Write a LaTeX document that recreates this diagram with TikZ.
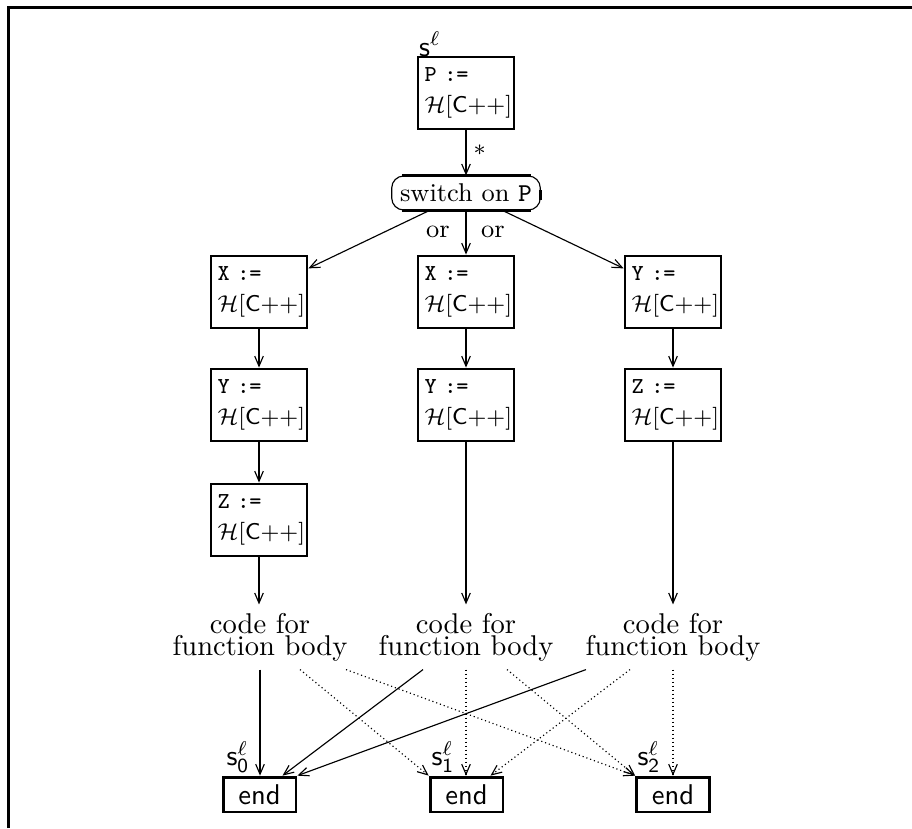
\documentclass[tikz,border=0pt]{standalone}
\usetikzlibrary{arrows.meta,calc}
\newcommand\HCpp{$\mathcal{H}$[\textsf{C++}]}
\begin{document}
\begin{tikzpicture}[x=0.35pt,y=-0.35pt,
  box/.style={draw,line width=1pt,minimum width=33.6pt,minimum height=25.2pt,
    text width=29pt,inner xsep=2.3pt,inner ysep=0pt,align=left,font=\footnotesize},
  endbox/.style={draw,line width=1pt,minimum width=25.5pt,minimum height=12.2pt,
    inner sep=0pt,font=\sffamily},
  codebox/.style={align=center,inner sep=0pt,minimum height=22.4pt},
  lab/.style={inner sep=0pt},
  arr/.style={line width=0.4pt,-{Straight Barb[length=3.5pt,width=3pt]}},
  darr/.style={arr,dash pattern=on 0.4pt off 1pt}
]
\useasboundingbox (0,0) rectangle (912,828);
\draw[line width=0.95pt] (8.5,828) -- (8.5,7.3) -- (912,7.3);

% top
\node[lab] (sl) at (430,44) {$\mathsf{s}^{\ell}$};
\node[box] (p) at (466,93) {\texttt{P :=}\\[1.4pt]\HCpp};
\node[draw,rounded corners=4.2pt,minimum width=52pt,minimum height=11.9pt,
  inner sep=0pt,line width=0.4pt,font=\small] (sw) at (466,193) {switch on \texttt{P}};
\draw[line width=1pt] ($(sw.north west)+(11,0)$) -- ($(sw.north east)+(-10,0)$);
\draw[line width=1pt] ($(sw.south west)+(11,0)$) -- ($(sw.south east)+(-10,0)$);
\draw[line width=1pt] ($(sw.east)+(0,-3)$) -- ($(sw.east)+(0,7)$);
\draw[arr] (p) -- (sw) node[midway,anchor=west,inner sep=2.5pt,yshift=1pt,font=\footnotesize] {$\ast$};

% row 1
\node[box] (a1) at (259,292) {\texttt{X :=}\\[1.4pt]\HCpp};
\node[box] (b1) at (466,292) {\texttt{X :=}\\[1.4pt]\HCpp};
\node[box] (c1) at (673,292) {\texttt{Y :=}\\[1.4pt]\HCpp};
\draw[arr] (sw) -- (a1);
\draw[arr] (sw) -- (b1);
\draw[arr] (sw) -- (c1);
\node[lab,font=\small] (or1) at (438,232) {or};
\node[lab,font=\small] (or2) at (493,232) {or};

% row 2
\node[box] (a2) at (259,405) {\texttt{Y :=}\\[1.4pt]\HCpp};
\node[box] (b2) at (466,405) {\texttt{Y :=}\\[1.4pt]\HCpp};
\node[box] (c2) at (673,405) {\texttt{Z :=}\\[1.4pt]\HCpp};
\draw[arr] (a1) -- (a2);
\draw[arr] (b1) -- (b2);
\draw[arr] (c1) -- (c2);

% row 3
\node[box] (a3) at (259,520) {\texttt{Z :=}\\[1.4pt]\HCpp};
\draw[arr] (a2) -- (a3);

% code
\node[codebox] (k0) at (260,637) {code for\\[-4.3pt]function body};
\node[codebox] (k1) at (466,637) {code for\\[-4.3pt]function body};
\node[codebox] (k2) at (673,637) {code for\\[-4.3pt]function body};
\draw[arr] (a3.south) -- (a3.south |- k0.north);
\draw[arr] (b2.south) -- (b2.south |- k1.north);
\draw[arr] (c2.south) -- (c2.south |- k2.north);

% ends
\node[endbox] (e0) at (259.5,794.5) {end};
\node[endbox] (e1) at (466.5,794.5) {end};
\node[endbox] (e2) at (673,794.5) {end};
\node[lab] (s0) at (238,757) {$\mathsf{s}^{\ell}_{\mathsf{0}}$};
\node[lab] (s1) at (443,757) {$\mathsf{s}^{\ell}_{\mathsf{1}}$};
\node[lab] (s2) at (649,757) {$\mathsf{s}^{\ell}_{\mathsf{2}}$};

\draw[arr] (k0.south) -- (k0.south |- e0.north);
\draw[darr] ($(k0.south)+(40,0)$) -- (e1.north west);
\draw[darr] ($(k0.south)+(86,0)$) -- (e2.north west);
\draw[arr] ($(k1.south)+(-43,0)$) -- ($(e0.north)+(23,0)$);
\draw[darr] (k1.south) -- (k1.south |- e1.north);
\draw[darr] ($(k1.south)+(41,0)$) -- (e2.north west);
\draw[arr] ($(k2.south)+(-87,0)$) -- (e0.north east);
\draw[darr] ($(k2.south)+(-43,0)$) -- ($(e1.north)+(24,0)$);
\draw[darr] (k2.south) -- (k2.south |- e2.north);
\end{tikzpicture}
\end{document}
